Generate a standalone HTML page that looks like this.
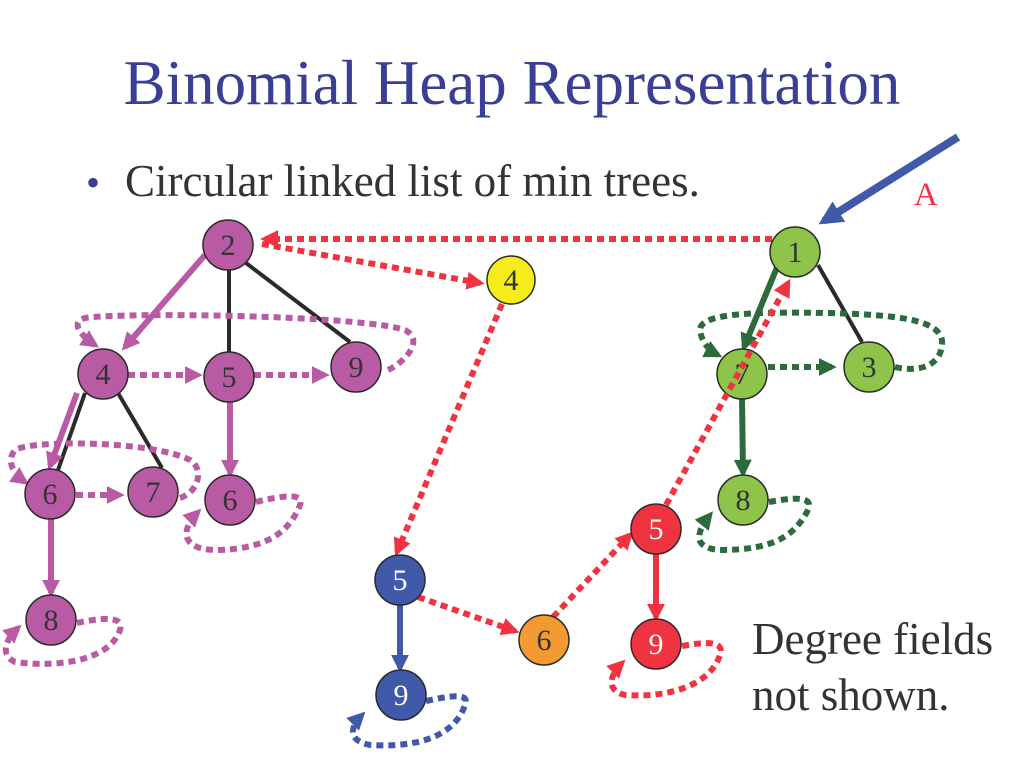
<!DOCTYPE html>
<html><head><meta charset="utf-8"><style>
body{margin:0;width:1024px;height:768px;background:#fff;overflow:hidden}
svg{display:block}
</style></head><body>
<svg width="1024" height="768" viewBox="0 0 1024 768" font-family="Liberation Serif, serif">
<defs>
<marker id="ar" markerWidth="3" markerHeight="3" refX="2.2" refY="1.5" orient="auto" markerUnits="strokeWidth"><path d="M0,0 L3,1.5 L0,3z" fill="#ef3340"/></marker>
<marker id="ap" markerWidth="3" markerHeight="3" refX="2.2" refY="1.5" orient="auto" markerUnits="strokeWidth"><path d="M0,0 L3,1.5 L0,3z" fill="#b85ba4"/></marker>
<marker id="ag" markerWidth="3" markerHeight="3" refX="2.2" refY="1.5" orient="auto" markerUnits="strokeWidth"><path d="M0,0 L3,1.5 L0,3z" fill="#2e6b3c"/></marker>
<marker id="ab" markerWidth="3" markerHeight="3" refX="2.2" refY="1.5" orient="auto" markerUnits="strokeWidth"><path d="M0,0 L3,1.5 L0,3z" fill="#4059a8"/></marker>
</defs>
<text x="512" y="104" text-anchor="middle" font-size="63" fill="#3a3f95">Binomial Heap Representation</text>
<text x="86" y="196" font-size="40" fill="#3a3f95">•</text>
<text x="125" y="196" font-size="45" fill="#333">Circular linked list of min trees.</text>
<text x="914" y="205" font-size="33" fill="#ef3340">A</text>
<text x="752" y="654" font-size="45" fill="#333">Degree fields</text>
<text x="752" y="710" font-size="45" fill="#333">not shown.</text>
<line x1="958" y1="137" x2="824" y2="221" stroke="#4059a8" stroke-width="8" marker-end="url(#ab)"/>
<g stroke="#2a2a2a" stroke-width="4">
<line x1="229" y1="270" x2="229" y2="352"/><line x1="246" y1="263" x2="350" y2="342"/>
<line x1="85" y1="393" x2="58" y2="470"/><line x1="118" y1="393" x2="162" y2="468"/>
<line x1="818" y1="265" x2="862" y2="342"/>
</g>
<g stroke-width="6" fill="none">
<line x1="205" y1="255" x2="125" y2="347" stroke="#b85ba4" marker-end="url(#ap)"/>
<line x1="77" y1="393" x2="50" y2="466" stroke="#b85ba4" marker-end="url(#ap)"/>
<line x1="230" y1="402" x2="230" y2="473" stroke="#b85ba4" marker-end="url(#ap)"/>
<line x1="51" y1="519" x2="51" y2="593" stroke="#b85ba4" marker-end="url(#ap)"/>
<line x1="400" y1="605" x2="400" y2="668" stroke="#4059a8" marker-end="url(#ab)"/>
<line x1="656" y1="554" x2="656" y2="617" stroke="#ef3340" marker-end="url(#ar)"/>
<line x1="778" y1="265" x2="744" y2="347" stroke="#2e6b3c" marker-end="url(#ag)"/>
<line x1="742" y1="399" x2="743" y2="473" stroke="#2e6b3c" marker-end="url(#ag)"/>
</g>
<g stroke-width="6" fill="none" stroke-dasharray="7 5">
<g stroke="#b85ba4">
<line x1="128" y1="375" x2="198" y2="375" marker-end="url(#ap)"/>
<line x1="254" y1="375" x2="325" y2="375" marker-end="url(#ap)"/>
<path d="M388,370 C405,362 425,340 405,330 C360,315 120,312 85,318 C70,322 80,335 95,345" marker-end="url(#ap)"/>
<line x1="76" y1="495" x2="120" y2="495" marker-end="url(#ap)"/>
<path d="M180,498 C198,492 205,470 190,460 C150,440 30,440 15,450 C5,462 15,475 25,482" marker-end="url(#ap)"/>
<path d="M256,502 C280,496 305,492 300,505 C290,530 270,548 220,550 C180,551 180,530 198,512" marker-end="url(#ap)"/>
<path d="M77,623 C100,618 125,615 120,630 C110,660 60,668 15,662 C0,655 5,640 18,628" marker-end="url(#ap)"/>
</g>
<g stroke="#2e6b3c">
<line x1="768" y1="367" x2="832" y2="367" marker-end="url(#ag)"/>
<path d="M895,367 C915,372 940,368 942,345 C945,320 900,315 830,313 C760,312 700,312 700,330 C702,345 712,352 718,355" marker-end="url(#ag)"/>
<path d="M769,502 C790,498 815,495 808,510 C795,535 775,550 720,550 C690,548 698,530 710,515" marker-end="url(#ag)"/>
</g>
<path d="M426,701 C450,696 470,692 465,705 C455,735 420,748 370,745 C345,740 352,725 362,715" stroke="#4059a8" marker-end="url(#ab)"/>
<path d="M682,646 C705,642 725,640 720,655 C710,685 670,698 625,695 C605,690 610,675 622,663" stroke="#ef3340" marker-end="url(#ar)"/>
<g stroke="#ef3340">
<line x1="772" y1="239" x2="265" y2="239" marker-end="url(#ar)"/>
<line x1="262" y1="244" x2="480" y2="283" marker-end="url(#ar)"/>
<line x1="502" y1="304" x2="397" y2="552" marker-end="url(#ar)"/>
<line x1="418" y1="597" x2="515" y2="631" marker-end="url(#ar)"/>
<line x1="553" y1="617" x2="630" y2="535" marker-end="url(#ar)"/>
</g>
</g>
<g stroke="#2a2a2a" stroke-width="1.5">
<g fill="#b85ba4">
<circle cx="228" cy="245" r="25"/><circle cx="103" cy="374" r="25"/><circle cx="229" cy="377" r="25"/><circle cx="356" cy="367" r="25"/>
<circle cx="50" cy="494" r="25"/><circle cx="153" cy="492" r="25"/><circle cx="230" cy="500" r="25"/><circle cx="51" cy="620" r="25"/>
</g>
<circle cx="511" cy="280" r="24" fill="#f5ec19"/>
<circle cx="400" cy="580" r="25" fill="#4059a8"/><circle cx="401" cy="695" r="25" fill="#4059a8"/>
<circle cx="544" cy="640" r="25" fill="#f39a32"/>
<circle cx="656" cy="529" r="25" fill="#ef3340"/><circle cx="656" cy="644" r="25" fill="#ef3340"/>
<g fill="#8dc449"><circle cx="795" cy="252" r="25"/><circle cx="742" cy="374" r="25"/><circle cx="869" cy="367" r="25"/><circle cx="743" cy="500" r="25"/></g>
</g>
<g font-size="30" text-anchor="middle" fill="#333">
<text x="228" y="255">2</text><text x="103" y="384">4</text><text x="229" y="387">5</text><text x="356" y="377">9</text>
<text x="50" y="504">6</text><text x="153" y="502">7</text><text x="230" y="510">6</text><text x="51" y="630">8</text>
<text x="511" y="290">4</text><text x="544" y="650">6</text>
<text x="795" y="262">1</text><text x="742" y="384">7</text><text x="869" y="377">3</text><text x="743" y="510">8</text>
<g fill="#fff"><text x="400" y="590">5</text><text x="401" y="705">9</text><text x="656" y="539">5</text><text x="656" y="654">9</text></g>
</g>
<line x1="666" y1="505" x2="788" y2="283" stroke="#ef3340" stroke-width="6" stroke-dasharray="7 5" marker-end="url(#ar)"/>
</svg>
</body></html>
